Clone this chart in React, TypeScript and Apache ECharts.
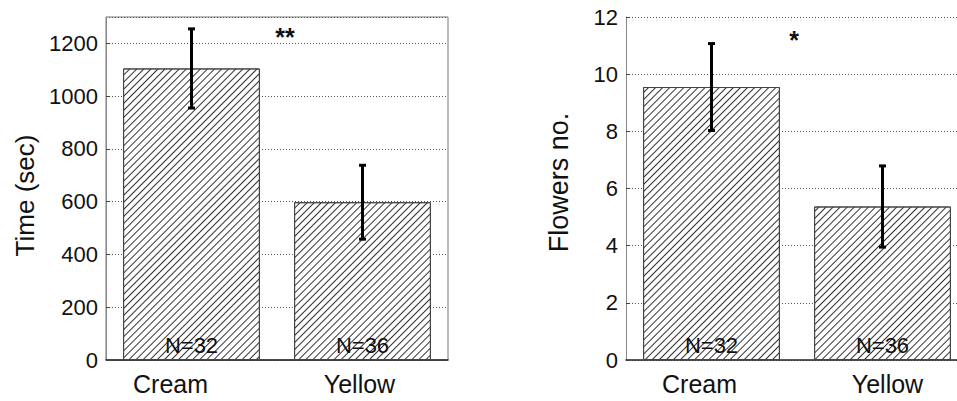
import React, { useEffect, useRef } from "react";
import * as echarts from "echarts";

const categories = ["Cream", "Yellow"];
const timeMeans = [1105, 598];
const timeErrors = [150, 140];
const flowerMeans = [9.55, 5.37];
const flowerErrors = [1.52, 1.42];
const sampleSizes = ["N=32", "N=36"];
const timeAxis = { min: 0, max: 1300, interval: 200 };
const flowerAxis = { min: 0, max: 12, interval: 2 };
const significance = ["**", "*"];

const FONT = "Arial, 'Liberation Sans', sans-serif";

function errData(means: number[], errs: number[]) {
  return means.map((m, i) => [i, m - errs[i], m + errs[i]]);
}

function renderErr(_params: any, api: any) {
  const x = api.value(0);
  const lo = api.coord([x, api.value(1)]);
  const hi = api.coord([x, api.value(2)]);
  const w = 3.5;
  const style = { stroke: "#000", lineWidth: 3 };
  return {
    type: "group",
    children: [
      { type: "line", shape: { x1: lo[0], y1: lo[1], x2: hi[0], y2: hi[1] }, style },
      { type: "line", shape: { x1: lo[0] - w, y1: lo[1], x2: lo[0] + w, y2: lo[1] }, style },
      { type: "line", shape: { x1: hi[0] - w, y1: hi[1], x2: hi[0] + w, y2: hi[1] }, style },
    ],
  };
}

const hatch = {
  symbol: "rect",
  symbolSize: 1,
  dashArrayX: [1, 0],
  dashArrayY: [1, 3.6],
  rotation: -Math.PI / 4,
  color: "#333",
  backgroundColor: "#fff",
};

function barSeries(axisIndex: number, values: number[]) {
  return {
    type: "bar",
    xAxisIndex: axisIndex,
    yAxisIndex: axisIndex,
    data: values,
    barCategoryGap: "20%",
    itemStyle: { color: "#fff", borderColor: "#444", borderWidth: 1, decal: hatch },
    label: {
      show: true,
      position: "insideBottom",
      distance: 4,
      formatter: (p: any) => sampleSizes[p.dataIndex],
      fontSize: 22,
      fontFamily: FONT,
      color: "#111",
    },
    silent: true,
  };
}

function xAxis(gridIndex: number, pads: number[][]) {
  const rich: any = {};
  categories.forEach((_c, i) => {
    rich["c" + i] = { fontSize: 25, lineHeight: 24, fontFamily: FONT, color: "#111", padding: pads[i] };
  });
  return {
    type: "category",
    gridIndex,
    data: categories,
    axisLine: { show: true, lineStyle: { color: "#222", width: 1.5 } },
    axisTick: { show: false },
    axisLabel: {
      interval: 0,
      hideOverlap: false,
      margin: 12,
      fontSize: 25,
      lineHeight: 24,
      fontFamily: FONT,
      color: "#111",
      formatter: (v: string) => `{c${categories.indexOf(v)}|${v}}`,
      rich,
    },
    splitLine: { show: false },
  };
}

function yAxis(gridIndex: number, cfg: any, name: string, nameGap: number, namePad: number[], nameSize: number) {
  return {
    type: "value",
    gridIndex,
    min: cfg.min,
    max: cfg.max,
    interval: cfg.interval,
    name,
    nameLocation: "middle",
    nameGap,
    nameTextStyle: { fontSize: nameSize, fontFamily: FONT, color: "#111", padding: namePad },
    axisLine: { show: true, lineStyle: { color: "#888", width: 1 } },
    axisTick: { show: true, inside: true, length: 4, lineStyle: { color: "#444" } },
    axisLabel: {
      margin: 8,
      fontSize: 22,
      fontFamily: FONT,
      color: "#111",
      formatter: (v: number) => String(v),
      showMaxLabel: cfg.max % cfg.interval === 0,
    },
    splitLine: { show: true, lineStyle: { color: "#555", width: 1, type: [1, 2] } },
  };
}

export default function App() {
  const ref = useRef<HTMLDivElement>(null);
  useEffect(() => {
    if (!ref.current) return;
    const chart = echarts.init(ref.current, undefined, { renderer: "svg" });
    chart.setOption({
      animation: false,
      backgroundColor: "#fff",
      grid: [
        {
          left: 106, top: 17, width: 342, height: 343,
          outerBoundsMode: "none", containLabel: false,
          show: true, borderColor: "#777", borderWidth: 1, backgroundColor: "transparent",
        },
        {
          left: 626, top: 17, width: 342, height: 343,
          outerBoundsMode: "none", containLabel: false, show: false,
        },
      ],
      xAxis: [
        xAxis(0, [[0, 42, 0, 0], [0, 6, 0, 0]]),
        xAxis(1, [[0, 24, 0, 0], [0, 0, 0, 10]]),
      ],
      yAxis: [
        yAxis(0, timeAxis, "Time (sec)", 68, [0, 14, 0, 0], 26),
        yAxis(1, flowerAxis, "Flowers no.", 54, [0, 0, 0, 12], 27),
      ],
      series: [
        barSeries(0, timeMeans),
        barSeries(1, flowerMeans),
        {
          type: "custom",
          xAxisIndex: 0,
          yAxisIndex: 0,
          data: errData(timeMeans, timeErrors),
          renderItem: renderErr,
          silent: true,
          z: 5,
        },
        {
          type: "custom",
          xAxisIndex: 1,
          yAxisIndex: 1,
          data: errData(flowerMeans, flowerErrors),
          renderItem: renderErr,
          silent: true,
          z: 5,
        },
      ],
      graphic: [
        {
          type: "text",
          x: 285,
          y: 37,
          style: { text: significance[0], fontSize: 25, fontWeight: "bold", fontFamily: FONT, fill: "#111", align: "center", verticalAlign: "middle" },
        },
        {
          type: "text",
          x: 794,
          y: 40,
          style: { text: significance[1], fontSize: 25, fontWeight: "bold", fontFamily: FONT, fill: "#111", align: "center", verticalAlign: "middle" },
        },
      ],
    });
    return () => chart.dispose();
  }, []);
  return (
    <div
      ref={ref}
      style={{ position: "fixed", left: 0, top: 0, width: 957, height: 401, background: "#fff" }}
    />
  );
}
